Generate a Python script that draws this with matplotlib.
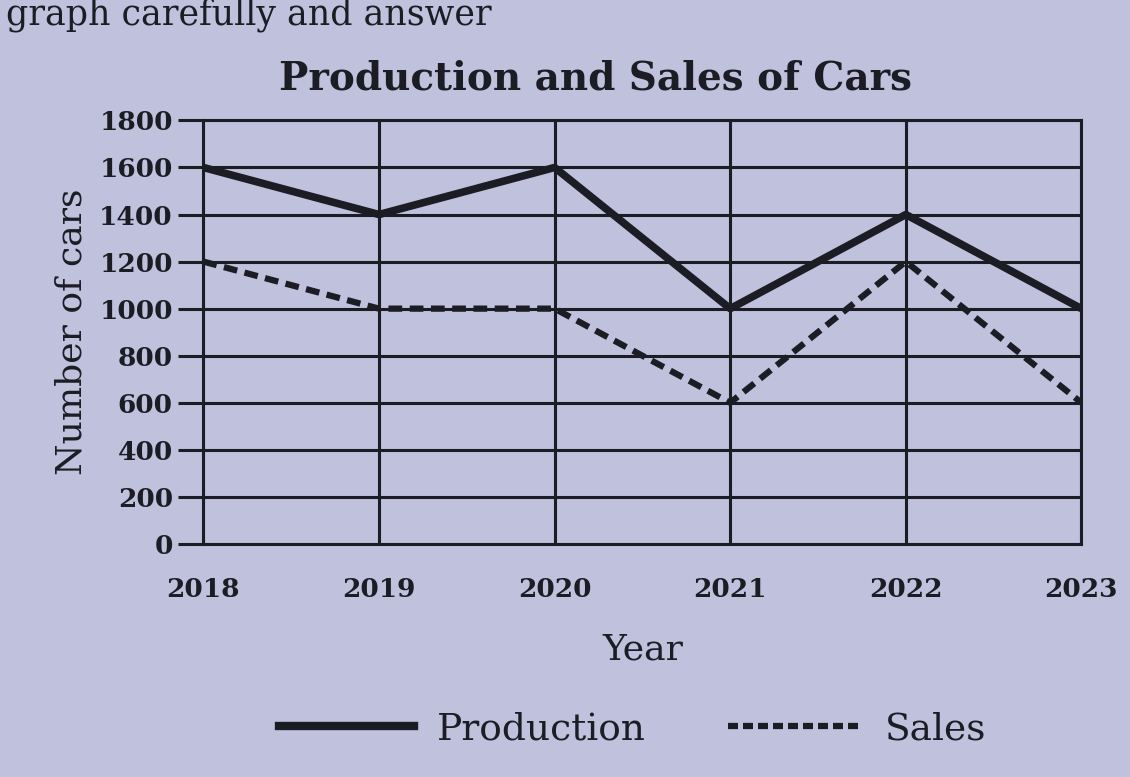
import matplotlib.pyplot as plt
from matplotlib.lines import Line2D

# values
years = [2018, 2019, 2020, 2021, 2022, 2023]
production = [1600, 1400, 1600, 1000, 1400, 1000]
sales = [1200, 1000, 1000, 600, 1200, 600]
y_ticks = [0, 200, 400, 600, 800, 1000, 1200, 1400, 1600, 1800]

paper = '#bfc1dd'
ink = '#1c1c24'

plt.rcParams['font.family'] = ['DejaVu Serif']

fig = plt.figure(figsize=(11.3, 7.77), dpi=100, facecolor=paper)
ax = fig.add_axes([0.18, 0.30, 0.777, 0.545], facecolor=paper)

# grid lines drawn heavy like the print
for v in y_ticks:
    ax.axhline(v, color=ink, lw=2.2, zorder=1)
for yr in years:
    ax.axvline(yr, color=ink, lw=2.2, zorder=1)

ax.plot(years, production, color=ink, lw=5.5, solid_capstyle='butt', zorder=3)
ax.plot(years, sales, color=ink, lw=4.5, dashes=(2.2, 1.2), zorder=3)

ax.set_xlim(2018, 2023)
ax.set_ylim(0, 1800)
ax.set_yticks(y_ticks)
ax.set_xticks(years)
ax.set_yticklabels([str(v) for v in y_ticks], fontsize=19, fontweight='bold', color=ink)
ax.set_xticklabels([str(y) for y in years], fontsize=19, fontweight='bold', color=ink)
ax.tick_params(axis='y', length=18, width=2.2, color=ink, pad=4)
ax.tick_params(axis='x', length=0, pad=24)
for s in ax.spines.values():
    s.set_color(ink)
    s.set_linewidth(2.2)

ax.set_ylabel('Number of cars', fontsize=26, color=ink, labelpad=8)
ax.set_xlabel('Year', fontsize=26, color=ink, labelpad=22)
fig.text(0.527, 0.885, 'Production and Sales of Cars', fontsize=28,
         fontweight='bold', color=ink, ha='center', va='baseline')

fig.text(0.005, 0.968, 'graph carefully and answer', fontsize=25, color=ink,
         va='baseline', ha='left')

handles = [Line2D([0], [0], color=ink, lw=6),
           Line2D([0], [0], color=ink, lw=4.5, dashes=(1.6, 0.8))]
fig.legend(handles, ['Production', 'Sales'], loc='lower center',
           bbox_to_anchor=(0.56, -0.005), ncol=2, frameon=False, fontsize=27,
           handlelength=3.6, handletextpad=0.6, columnspacing=2.2, labelcolor=ink)

fig.savefig('out.png', dpi=100, facecolor=paper)
